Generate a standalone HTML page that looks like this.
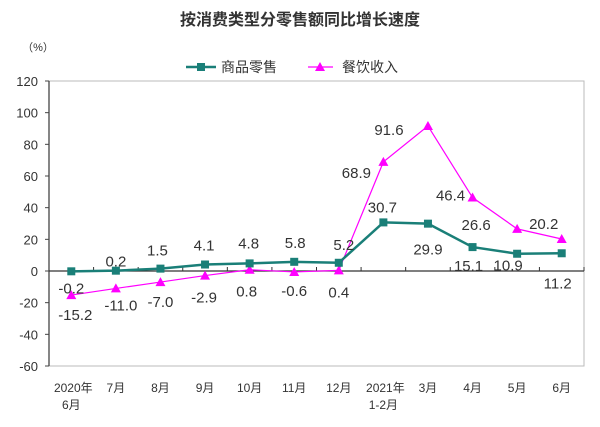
<!DOCTYPE html>
<html><head><meta charset="utf-8"><style>
html,body{margin:0;padding:0;background:#fff;}
svg{display:block;font-family:"Liberation Sans","Noto Sans CJK SC",sans-serif;}
</style></head><body>
<svg width="600" height="427" viewBox="0 0 600 427">
<text x="300" y="25" text-anchor="middle" font-size="16" font-weight="bold" fill="#333">按消费类型分零售额同比增长速度</text>
<text x="38" y="51" text-anchor="middle" font-size="11" fill="#333">（%）</text>
<g>
  <g>
    <line x1="186" y1="67" x2="216" y2="67" stroke="#1a7f78" stroke-width="2.5"/>
    <rect x="197" y="63" width="8" height="8" fill="#1a7f78"/>
    <text x="221" y="72" font-size="14" fill="#333">商品零售</text>
  </g>
  <g>
    <line x1="308" y1="67" x2="333" y2="67" stroke="#ff00ff" stroke-width="1.2"/>
    <polygon points="320,62 325,71 315,71" fill="#ff00ff"/>
    <text x="342" y="72" font-size="14" fill="#333">餐饮收入</text>
  </g>
</g>
<g id="plot"></g>
</svg>
<script>
const categories=["2020年|6月","7月","8月","9月","10月","11月","12月","2021年|1-2月","3月","4月","5月","6月"];
const retail=[-0.2,0.2,1.5,4.1,4.8,5.8,5.2,30.7,29.9,15.1,10.9,11.2];
const catering=[-15.2,-11.0,-7.0,-2.9,0.8,-0.6,0.4,68.9,91.6,46.4,26.6,20.2];
const yTicks=[120,100,80,60,40,20,0,-20,-40,-60];
const retailLabelOff=[[0,17],[0,-9],[-3,-18],[-1,-19],[-1,-20],[1,-19],[5,-18],[-1,-15],[0,26],[-4,19],[-9,12],[-4,30]];
const cateringLabelOff=[[4,20],[5,17],[0,20],[-1,22],[-3,22],[0,19],[0,22],[-27,11],[-39,4],[-22,-2],[-41,-4],[-18,-15]];
const L=49,R=584,T=81,B=366,yMin=-60,yMax=120;
const cw=(R-L)/categories.length;
function xs(i){return L+cw*(i+0.5);}
function ys(v){return T+(yMax-v)/(yMax-yMin)*(B-T);}
const NS="http://www.w3.org/2000/svg";
const g=document.getElementById('plot');
function mk(tag,attrs,parent){const e=document.createElementNS(NS,tag);for(const k in attrs)e.setAttribute(k,attrs[k]);(parent||g).appendChild(e);return e;}
let fr=mk('rect',{x:L,y:T,width:R-L,height:B-T,fill:'none',stroke:'#bbb','stroke-width':1});


let ya=mk('line',{x1:L,y1:T,x2:L,y2:B,stroke:'#444','stroke-width':1.3});


yTicks.forEach(v=>{
  const t=mk('text',{x:38,y:ys(v)+5,'text-anchor':'end','font-size':13,fill:'#333'});
  t.textContent=v;
  
  
  mk('line',{x1:L-4,y1:ys(v),x2:L,y2:ys(v),stroke:'#444'});
});
let xa=mk('line',{x1:L,y1:ys(0),x2:R,y2:ys(0),stroke:'#333','stroke-width':1.3});


categories.forEach((c,i)=>{
  const tx=L+cw*(i+1);
  mk('line',{x1:tx,y1:ys(0)-4,x2:tx,y2:ys(0),stroke:'#333'});
  const parts=c.split('|');
  parts.forEach((p,j)=>{
    const t=mk('text',{x:xs(i)+(j===0&&parts.length>1?2:0),y:392+j*17,'text-anchor':'middle','font-size':12,fill:'#333'});
    t.textContent=p;
    
    
  });
});
function series(vals,color,w,name,marker,offs){
  const p=mk('polyline',{points:vals.map((v,i)=>xs(i)+','+ys(v)).join(' '),fill:'none',stroke:color,'stroke-width':w});
  
  
  vals.forEach((v,i)=>{
    const x=xs(i),y=ys(v);let m;
    if(marker==='sq')m=mk('rect',{x:x-4,y:y-4,width:8,height:8,fill:color});
    else m=mk('polygon',{points:`${x},${y-5} ${x+5},${y+4} ${x-5},${y+4}`,fill:color});
    
    
    const t=mk('text',{x:x+offs[i][0],y:y+offs[i][1]+5,'text-anchor':'middle','font-size':15,fill:'#333'});
    t.textContent=v.toFixed(1);
    
    
  });
}
series(catering,'#ff00ff',1.2,'catering','tri',cateringLabelOff);
series(retail,'#1a7f78',2.5,'retail','sq',retailLabelOff);
</script>
</body></html>
